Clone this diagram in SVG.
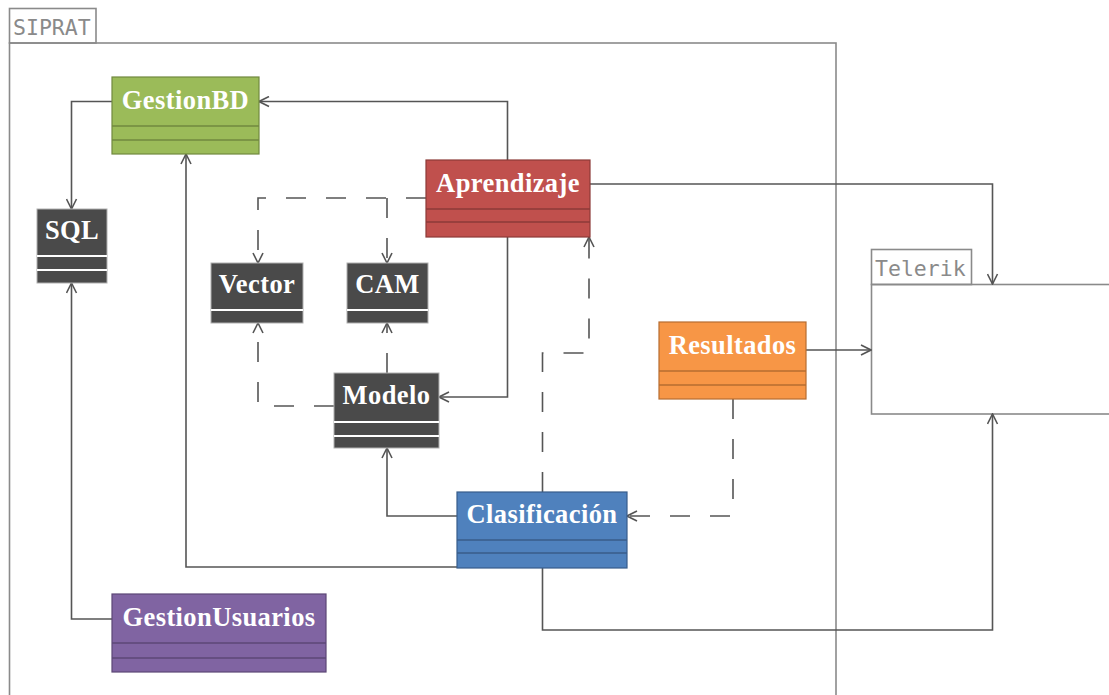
<svg xmlns="http://www.w3.org/2000/svg" width="1109" height="695" viewBox="0 0 1109 695">
  <defs>
    <style>
      .frame { fill: none; stroke: #8a8a8a; stroke-width: 1.6; }
      .pkg { font-family: "DejaVu Sans Mono", "Liberation Mono", monospace; font-size: 21.5px; fill: #8a8a8a; }
      .title { font-family: "Liberation Serif", "Times New Roman", serif; font-weight: bold; font-size: 26.5px; letter-spacing: 0.4px; fill: #ffffff; text-anchor: middle; }
      .conn { fill: none; stroke: #555555; stroke-width: 1.6; marker-end: url(#arrow); }
      .dash { stroke-dasharray: 20 20; }
      .sepw { stroke: #ffffff; stroke-width: 2; }
      .dark { fill: #4a4a4a; stroke: #b0b0b0; stroke-width: 1; }
    </style>
    <marker id="arrow" viewBox="0 0 12 12" refX="11" refY="6" markerWidth="12" markerHeight="12" markerUnits="userSpaceOnUse" orient="auto">
      <path d="M1,1 L11,6 L1,11" fill="none" stroke="#555555" stroke-width="1.6"/>
    </marker>
  </defs>

  <!-- packages -->
  <g id="pkg-siprat">
    <rect class="frame" x="9.5" y="8.5" width="86.5" height="34.5"/>
    <rect class="frame" x="9.5" y="43" width="826.5" height="670"/>
    <text class="pkg" x="13" y="35">SIPRAT</text>
  </g>
  <g id="pkg-telerik">
    <rect class="frame" x="871.5" y="249.5" width="100" height="35"/>
    <rect class="frame" x="871.5" y="284.5" width="260" height="129.5"/>
    <text class="pkg" x="875" y="276">Telerik</text>
  </g>

  <!-- connectors -->
  <g id="connectors">
    <path class="conn" d="M112,101.5 H71.5 V209"/>
    <path class="conn" d="M507.5,160 V101.5 H259"/>
    <path class="conn" d="M590,184 H992.5 V284"/>
    <path class="conn dash" d="M426,198 H258 V263"/>
    <path class="conn dash" d="M387,198 V263"/>
    <path class="conn" d="M507.5,237 V397 H439"/>
    <path class="conn dash" d="M334,406 H258 V323"/>
    <path class="conn dash" d="M387,373 V323"/>
    <path class="conn" d="M457,516 H387 V448"/>
    <path class="conn dash" d="M542.5,492 V353 H589 V237"/>
    <path class="conn dash" d="M733,399 V516 H627"/>
    <path class="conn" d="M806,350 H871"/>
    <path class="conn" d="M457,567 H186 V154"/>
    <path class="conn" d="M542.5,568 V630 H992.5 V414"/>
    <path class="conn" d="M112,619 H71.5 V283"/>
  </g>

  <!-- classes -->
  <g id="GestionBD">
    <rect x="112" y="77" width="147" height="77" fill="#9bbb59" stroke="#71893f" stroke-width="1.2"/>
    <line x1="112" y1="126" x2="259" y2="126" stroke="#71893f" stroke-width="1.5"/>
    <line x1="112" y1="140" x2="259" y2="140" stroke="#71893f" stroke-width="1.5"/>
    <text class="title" x="185.5" y="109">GestionBD</text>
  </g>

  <g id="Aprendizaje">
    <rect x="426" y="160" width="164" height="77" fill="#c0504d" stroke="#8c3a38" stroke-width="1.2"/>
    <line x1="426" y1="209" x2="590" y2="209" stroke="#8c3a38" stroke-width="1.5"/>
    <line x1="426" y1="222" x2="590" y2="222" stroke="#8c3a38" stroke-width="1.5"/>
    <text class="title" x="508" y="192">Aprendizaje</text>
  </g>

  <g id="SQL">
    <rect class="dark" x="37" y="209" width="70" height="74"/>
    <line class="sepw" x1="37" y1="256" x2="107" y2="256"/>
    <line class="sepw" x1="37" y1="270" x2="107" y2="270"/>
    <text class="title" x="72" y="239">SQL</text>
  </g>

  <g id="Vector">
    <rect class="dark" x="211" y="263" width="92" height="60"/>
    <line class="sepw" x1="211" y1="310" x2="303" y2="310"/>
    <text class="title" x="257" y="293">Vector</text>
  </g>

  <g id="CAM">
    <rect class="dark" x="347" y="263" width="81" height="60"/>
    <line class="sepw" x1="347" y1="310" x2="428" y2="310"/>
    <text class="title" x="387.5" y="293">CAM</text>
  </g>

  <g id="Modelo">
    <rect class="dark" x="334" y="373" width="105" height="75"/>
    <line class="sepw" x1="334" y1="422" x2="439" y2="422"/>
    <line class="sepw" x1="334" y1="436" x2="439" y2="436"/>
    <text class="title" x="386.5" y="404">Modelo</text>
  </g>

  <g id="Resultados">
    <rect x="659" y="322" width="147" height="77" fill="#f79646" stroke="#b66d31" stroke-width="1.2"/>
    <line x1="659" y1="371" x2="806" y2="371" stroke="#b66d31" stroke-width="1.5"/>
    <line x1="659" y1="385" x2="806" y2="385" stroke="#b66d31" stroke-width="1.5"/>
    <text class="title" x="732.5" y="354">Resultados</text>
  </g>

  <g id="Clasificacion">
    <rect x="457" y="492" width="170" height="76" fill="#4f81bd" stroke="#385d8a" stroke-width="1.2"/>
    <line x1="457" y1="540" x2="627" y2="540" stroke="#385d8a" stroke-width="1.5"/>
    <line x1="457" y1="553" x2="627" y2="553" stroke="#385d8a" stroke-width="1.5"/>
    <text class="title" x="542" y="523">Clasificación</text>
  </g>

  <g id="GestionUsuarios">
    <rect x="112" y="594" width="214" height="78" fill="#8064a2" stroke="#5c4776" stroke-width="1.2"/>
    <line x1="112" y1="643" x2="326" y2="643" stroke="#5c4776" stroke-width="1.5"/>
    <line x1="112" y1="658" x2="326" y2="658" stroke="#5c4776" stroke-width="1.5"/>
    <text class="title" x="219" y="626">GestionUsuarios</text>
  </g>
</svg>
